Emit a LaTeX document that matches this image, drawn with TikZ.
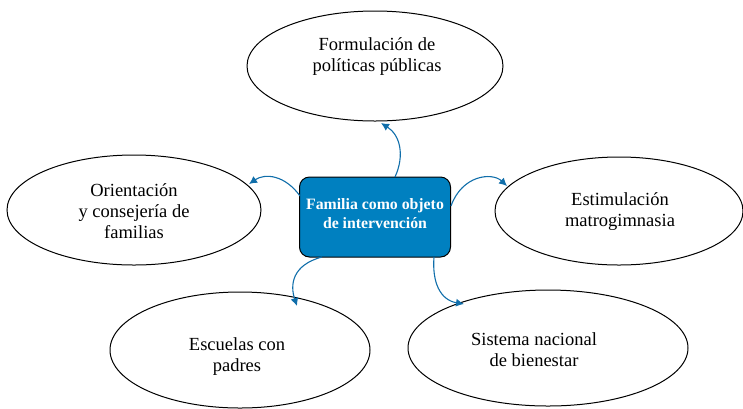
\documentclass[tikz,border=0pt]{standalone}
\usepackage{fontspec}
\setmainfont{Liberation Serif}
\usetikzlibrary{shapes.geometric,arrows.meta}
\definecolor{boxblue}{RGB}{0,128,192}
\definecolor{arrblue}{RGB}{16,110,170}
\tikzset{
  oval/.style={ellipse,draw=black,line width=1pt,fill=white,inner sep=0pt},
  ovaltext/.style={align=center,inner sep=0pt,font=\fontsize{18.5}{21}\selectfont},
  centerbox/.style={rectangle,rounded corners=10pt,draw=black,line width=1pt,fill=boxblue},
  centertext/.style={text=white,align=center,inner sep=0pt,font=\fontsize{15.8}{19}\bfseries\selectfont},
  link/.style={draw=arrblue,line width=1.1pt,-{Latex[length=8pt,width=8pt]}}
}
\begin{document}
\begin{tikzpicture}[x=1pt,y=-1pt]
\useasboundingbox (0,0) rectangle (743,408);
\node[oval,minimum width=256pt,minimum height=110pt] (top) at (375,66) {};
\node[oval,minimum width=254pt,minimum height=110pt] (left) at (134,210) {};
\node[oval,minimum width=248pt,minimum height=108pt] (right) at (619,211) {};
\node[oval,minimum width=260pt,minimum height=116pt] (bl) at (240,350) {};
\node[oval,minimum width=280pt,minimum height=116pt] (br) at (548,348) {};
\node[ovaltext] (toptext) at (377,57) {Formulación de\\políticas públicas};
\node[ovaltext] (lefttext) at (134,211) {Orientación\\y consejería de\\familias};
\node[ovaltext] (righttext) at (620,212) {Estimulación\\matrogimnasia};
\node[ovaltext] (bltext) at (237,357) {Escuelas con\\padres};
\node[ovaltext] (brtext) at (534,350) {Sistema nacional\\de bienestar};
\node[centerbox,minimum width=151pt,minimum height=80pt] (c) at (375,217) {};
\node[centertext] (ctext) at (375,214) {Familia como objeto\\de intervención};
\coordinate (ct) at (395,177);
\coordinate (cl) at (300,196);
\coordinate (cr) at (451,206);
\coordinate (cbl) at (322,257);
\coordinate (cbr) at (434,257);
\coordinate (tt) at (381,123);
\coordinate (lt) at (249,184);
\coordinate (rt) at (507,186);
\coordinate (blt) at (297,306);
\coordinate (brt) at (464,304);
\draw[link] (ct) .. controls (405,155) and (400,135) .. (tt);
\draw[link] (cl) .. controls (285,175) and (265,173) .. (lt);
\draw[link] (cr) .. controls (462,175) and (492,172) .. (rt);
\draw[link] (cbl) .. controls (292,265) and (290,285) .. (blt);
\draw[link] (cbr) .. controls (432,282) and (440,300) .. (brt);
\end{tikzpicture}
\end{document}
